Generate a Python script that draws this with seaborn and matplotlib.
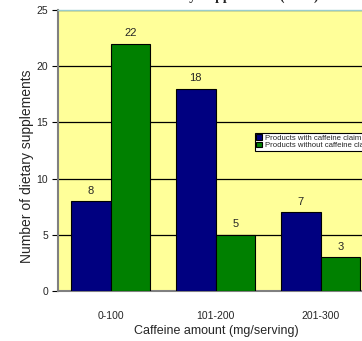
import matplotlib
matplotlib.use("Agg")
import matplotlib.pyplot as plt
import seaborn as sns
import pandas as pd

categories = ["0-100", "101-200", "201-300"]
series_names = ["Products with caffeine claim", "Products without caffeine claim"]
with_claim = [8, 18, 7]
without_claim = [22, 5, 3]

df = pd.DataFrame({
    "cat": categories * 2,
    "series": [series_names[0]] * 3 + [series_names[1]] * 3,
    "val": with_claim + without_claim,
})

sns.set_style("white")
plt.rcParams['font.family'] = ['Liberation Sans', 'DejaVu Sans']

fig = plt.figure(figsize=(3.62, 3.41), dpi=100)
W, H = 362, 341
AW, AH = 420, 281
ax = fig.add_axes([58 / W, (H - 291) / H, AW / W, AH / H])
ax.set_facecolor("#FFFF99")

sns.barplot(data=df, x="cat", y="val", hue="series", order=categories,
            hue_order=series_names, palette=["#000080", "#008000"],
            saturation=1, width=0.76, edgecolor="black", linewidth=0.8,
            ax=ax, zorder=3, legend=True)
ax.set_xlim(-0.5, 3.5)
ax.set_ylim(0, 25)
ax.set_yticks([0, 5, 10, 15, 20, 25])
ax.yaxis.grid(True, color="black", linewidth=0.9, zorder=1)
ax.set_axisbelow(True)
for c in ax.containers:
    ax.bar_label(c, padding=4, fontsize=8)

ax.tick_params(axis="y", left=True, length=4, width=0.8, color="black",
               labelsize=7.5, pad=3)
ax.tick_params(axis="x", bottom=False, labelsize=7.5, pad=11)
for s in ["left", "bottom"]:
    ax.spines[s].set_color("#808080")
    ax.spines[s].set_linewidth(1.5)
ax.spines["top"].set_color("#99CCCC")
ax.spines["top"].set_linewidth(1)
ax.spines["right"].set_visible(False)

ax.set_xlabel("Caffeine amount (mg/serving)", fontsize=9)
ax.xaxis.set_label_coords((216 - 58) / AW, -(331 - 291) / AH)
ax.xaxis.label.set_va("center")
ax.set_ylabel("Number of dietary supplements", fontsize=10)
ax.yaxis.set_label_coords(-(58 - 27) / AW, (291 - 166) / AH)
ax.yaxis.label.set_va("center")

leg = ax.legend(loc="upper left", bbox_to_anchor=((255 - 58) / AW, 1 - (133 - 10) / AH),
                fontsize=5.6, frameon=True, fancybox=False, edgecolor="black",
                framealpha=1, handlelength=0.7, handleheight=0.7,
                handletextpad=0.4, borderpad=0.15, labelspacing=0.05, borderaxespad=0)
leg.get_frame().set_linewidth(0.8)

fig.text(200 / W, 1.012, "Caffeine in Dietary Supplements (n=63)", ha="center", va="center",
         fontsize=10, fontweight="bold", family=["Liberation Serif", "DejaVu Serif"])

fig.savefig("out.png", dpi=100)
